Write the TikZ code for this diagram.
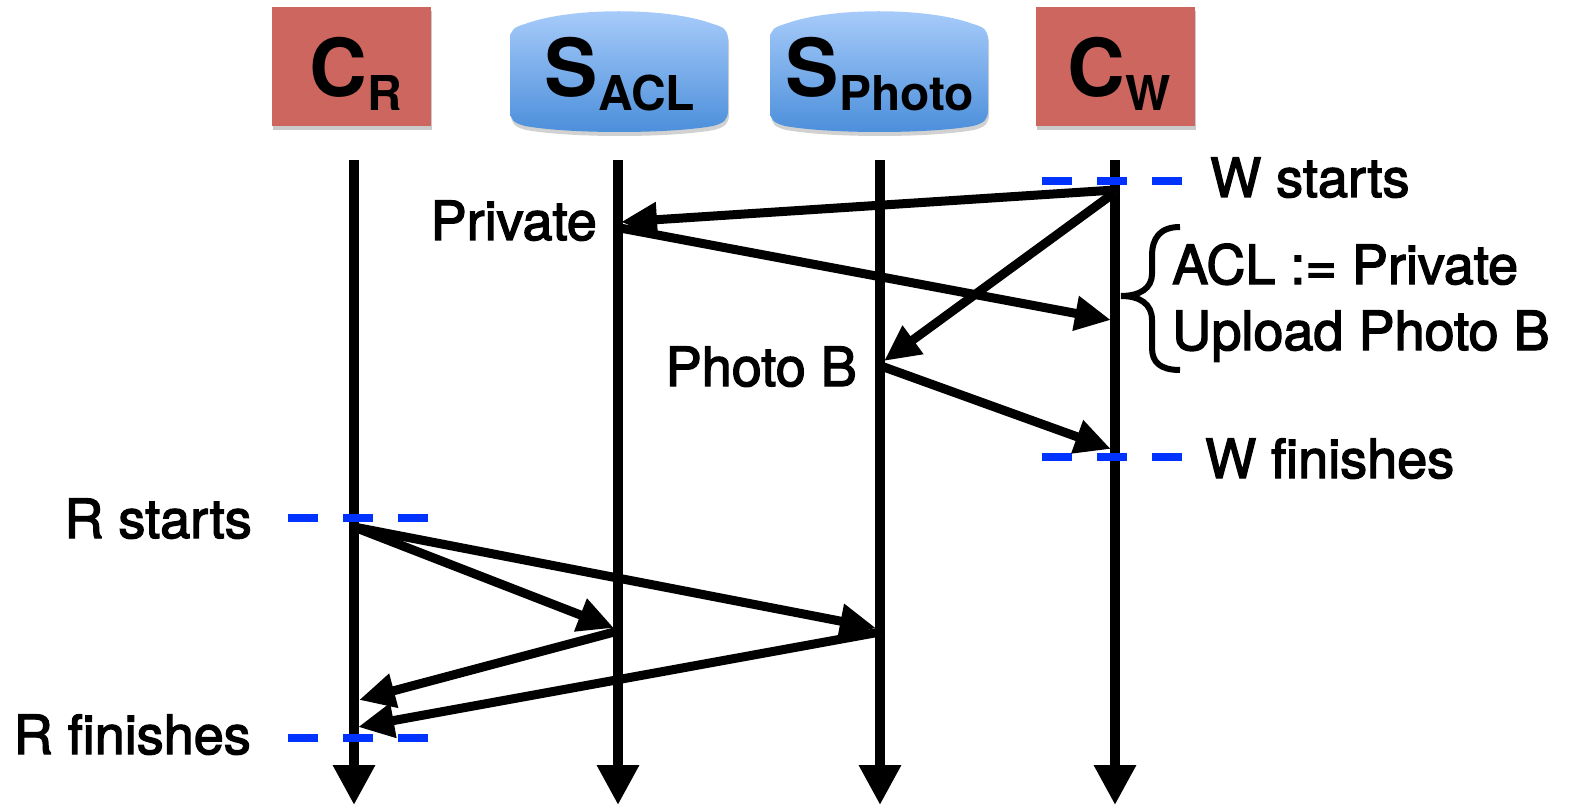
\documentclass[tikz,border=0pt]{standalone}
\usepackage{fontspec}
\setmainfont{TeX Gyre Heros}
\newfontfamily\lblfont[FakeBold=2.5]{TeX Gyre Heros}
\usetikzlibrary{arrows.meta,shadows}
\definecolor{clientred}{HTML}{CD665E}
\definecolor{srvtop}{HTML}{AACDFB}
\definecolor{srvbot}{HTML}{4A8EDA}
\definecolor{dashblue}{HTML}{0033FF}
\newcommand{\bigtxt}{\bfseries\fontsize{80}{84}\selectfont}
\newcommand{\subtxt}{\bfseries\fontsize{48}{50}\selectfont}
\begin{document}
\begin{tikzpicture}[x=1pt,y=1pt,
  lshadow/.style={preaction={draw=black!45,opacity=0.35,transform canvas={shift={(1.5pt,-3pt)}}}},
  lifeline/.style={lshadow,line width=9.5pt,-{Triangle[length=40pt,width=40pt]}},
  msg/.style={lshadow,line width=9pt,-{Triangle[length=36pt,width=33pt]}},
  marker/.style={dashblue,line width=8.5pt,dash pattern=on 30pt off 25pt},
  lbl/.style={inner sep=0pt,font=\lblfont\fontsize{54}{60}\selectfont},
  hdrtxt/.style={inner sep=0pt,anchor=base},
  clientbox/.style={fill=clientred,minimum width=159pt,minimum height=119pt,inner sep=0pt,
    drop shadow={fill=black!60,opacity=0.35,shadow xshift=1pt,shadow yshift=-4pt}},
  srvshape/.pic={
    \fill[black!60,opacity=0.3,shift={(1,-4)}] (-109,31) .. controls (-109,41) and (-105,44) .. (-94,47) .. controls (-49,64) and (49,64) .. (94,47) .. controls (105,44) and (109,41) .. (109,31) -- (109,-39) .. controls (109,-49) and (105,-52) .. (94,-55) .. controls (49,-63) and (-49,-63) .. (-94,-55) .. controls (-105,-52) and (-109,-49) .. (-109,-39) -- cycle;
    \shade[top color=srvtop,bottom color=srvbot] (-109,31) .. controls (-109,41) and (-105,44) .. (-94,47) .. controls (-49,64) and (49,64) .. (94,47) .. controls (105,44) and (109,41) .. (109,31) -- (109,-39) .. controls (109,-49) and (105,-52) .. (94,-55) .. controls (49,-63) and (-49,-63) .. (-94,-55) .. controls (-105,-52) and (-109,-49) .. (-109,-39) -- cycle;
  }]
\useasboundingbox (0,0) rectangle (1569,-805);

% headers
\node[clientbox] (CR) at (351.5,-66.5) {};
\node[clientbox] (CW) at (1115,-66.5) {};
\pic (SACL) at (619,-71) {srvshape};
\pic (SPH) at (879,-71) {srvshape};
\node[hdrtxt] (CRt) at (356,-97) {\bigtxt C\raisebox{-14pt}{\subtxt R}};
\node[hdrtxt] (CWt) at (1119,-97) {\bigtxt C\raisebox{-14pt}{\subtxt W}};
\node[hdrtxt] (SAt) at (620,-97) {\bigtxt S\raisebox{-14pt}{\subtxt ACL}};
\node[hdrtxt] (SPt) at (880,-97) {\bigtxt S\raisebox{-14pt}{\subtxt Photo}};

% lifelines
\coordinate (crtop) at (354,-160); \coordinate (crbot) at (354,-805);
\coordinate (satop) at (618,-160); \coordinate (sabot) at (618,-805);
\coordinate (sptop) at (880,-160); \coordinate (spbot) at (880,-805);
\coordinate (cwtop) at (1115,-160); \coordinate (cwbot) at (1115,-805);
\draw[lifeline] (crtop) -- (crbot);
\draw[lifeline] (satop) -- (sabot);
\draw[lifeline] (sptop) -- (spbot);
\draw[lifeline] (cwtop) -- (cwbot);

% markers
\coordinate (ws1) at (1042,-181); \coordinate (ws2) at (1182,-181);
\coordinate (wf1) at (1042,-457); \coordinate (wf2) at (1182,-457);
\coordinate (rs1) at (288,-518); \coordinate (rs2) at (430,-518);
\coordinate (rf1) at (288,-738); \coordinate (rf2) at (430,-738);
\draw[marker] (ws1) -- (ws2);
\draw[marker] (wf1) -- (wf2);
\draw[marker] (rs1) -- (rs2);
\draw[marker] (rf1) -- (rf2);

% message points
\coordinate (w0) at (1115,-190);
\coordinate (w0b) at (1114,-193);
\coordinate (acl1) at (621,-222);
\coordinate (acl2) at (620,-228);
\coordinate (cw1) at (1111,-320);
\coordinate (ph1) at (884,-361);
\coordinate (ph2) at (881,-366);
\coordinate (cw2) at (1111,-449);
\coordinate (r0) at (354,-527);
\coordinate (acl3) at (614,-628);
\coordinate (ph3) at (876,-628);
\coordinate (acl4) at (618,-631);
\coordinate (cr1) at (359,-700);
\coordinate (ph4) at (880,-632);
\coordinate (cr2) at (358,-727);

\draw[msg] (w0) -- (acl1);
\draw[msg] (acl2) -- (cw1);
\draw[msg] (w0b) -- (ph1);
\draw[msg] (ph2) -- (cw2);
\draw[msg] (r0) -- (acl3);
\draw[msg] (r0) -- (ph3);
\draw[msg] (acl4) -- (cr1);
\draw[msg] (ph4) -- (cr2);

% brace
\draw[line width=6pt] (1180,-227) .. controls (1160,-227) and (1152,-238) .. (1152,-256) -- (1152,-274) .. controls (1152,-288) and (1140,-296) .. (1121,-296) .. controls (1140,-296) and (1152,-304) .. (1152,-320) -- (1152,-348) .. controls (1152,-362) and (1160,-370) .. (1180,-370);

% labels
\node[lbl,anchor=base east] (lpriv) at (597,-240) {Private};
\node[lbl,anchor=base east] (lphoto) at (857,-386) {Photo B};
\node[lbl,anchor=base west] (lws) at (1210,-197) {W starts};
\node[lbl,anchor=base west] (lwf) at (1205,-478) {W finishes};
\node[lbl,anchor=base east] (lrs) at (252,-538) {R starts};
\node[lbl,anchor=base east] (lrf) at (251,-754) {R finishes};
\node[lbl,anchor=base west] (lacl) at (1172,-284) {ACL := Private};
\node[lbl,anchor=base west] (lup) at (1172,-350) {Upload Photo B};
\end{tikzpicture}
\end{document}
